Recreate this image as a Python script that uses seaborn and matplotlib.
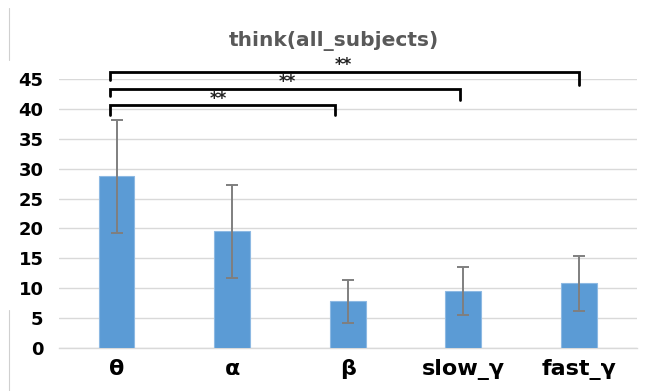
import matplotlib
matplotlib.use("Agg")
import matplotlib.pyplot as plt
import seaborn as sns
import pandas as pd
from matplotlib.lines import Line2D

# ---- data ----
bands = ["θ", "α", "β", "slow_γ", "fast_γ"]
means = [28.7, 19.5, 7.8, 9.6, 10.8]
errors = [9.4, 7.8, 3.6, 4.0, 4.6]
y_ticks = [0, 5, 10, 15, 20, 25, 30, 35, 40, 45]
title = "think(all_subjects)"

# significance brackets: (left x, right x, bar height, left tick bottom, right tick bottom)
brackets = [(-0.06, 1.89, 40.7, 39.0, 39.0),
            (-0.06, 2.97, 43.4, 42.1, 41.5),
            (-0.06, 4.00, 46.2, 44.8, 44.0)]
stars = [("**", 0.88, 41.7), ("**", 1.48, 44.5), ("**", 1.96, 47.3)]

sns.set_theme(style="white")
plt.rcParams['font.family'] = ['DejaVu Sans']

df = pd.DataFrame({"band": bands, "value": means})

fig = plt.figure(figsize=(6.5, 3.91), dpi=100)
ax = fig.add_axes([0.0904, 0.110, 0.889, 0.688])

sns.barplot(data=df, x="band", y="value", color="#5B9BD5", saturation=1,
            width=0.31, errorbar=None, ax=ax, zorder=3,
            edgecolor="#8DB9E3", linewidth=0.8)
ax.errorbar(range(len(bands)), means, yerr=errors, fmt="none",
            ecolor="#7F7F7F", elinewidth=1.4, capsize=4, capthick=1.4, zorder=4)

ax.set_ylim(0, 45)
ax.set_xlim(-0.5, 4.5)
ax.set_yticks(y_ticks)
ax.yaxis.grid(True, color="#D9D9D9", linewidth=1.0, zorder=0)
ax.set_axisbelow(True)
for s in ["left", "right", "top"]:
    ax.spines[s].set_visible(False)
ax.spines["bottom"].set_color("#D9D9D9")
ax.spines["bottom"].set_linewidth(1.0)
ax.set_xlabel("")
ax.set_ylabel("")
ax.tick_params(axis="y", length=0, pad=11, labelsize=13)
ax.tick_params(axis="x", length=0, pad=8, labelsize=16)
for lab in ax.get_yticklabels() + ax.get_xticklabels():
    lab.set_fontweight("bold")
    lab.set_color("black")

for (x0, x1, h, lb, rb) in brackets:
    ax.plot([x0, x0, x1, x1], [lb, h, h, rb], color="black", lw=2.0,
            clip_on=False, zorder=5, solid_joinstyle="miter")
for (t, x, y) in stars:
    ax.text(x, y, t, ha="center", va="center", fontsize=12, fontweight="bold",
            color="#222222", clip_on=False)

fig.text(334 / 650, 1 - 41 / 391, title, ha="center", va="center",
         fontsize=14.5, fontweight="bold", color="#595959")

# faint border fragments at the left edge
fig.add_artist(Line2D([9 / 650, 9 / 650], [1 - 8 / 391, 1 - 60 / 391],
                      color="#D0D0D0", lw=0.8))
fig.add_artist(Line2D([9 / 650, 9 / 650], [1 - 310 / 391, 0],
                      color="#D0D0D0", lw=0.8))

fig.savefig("out.png", dpi=100, facecolor="white")
